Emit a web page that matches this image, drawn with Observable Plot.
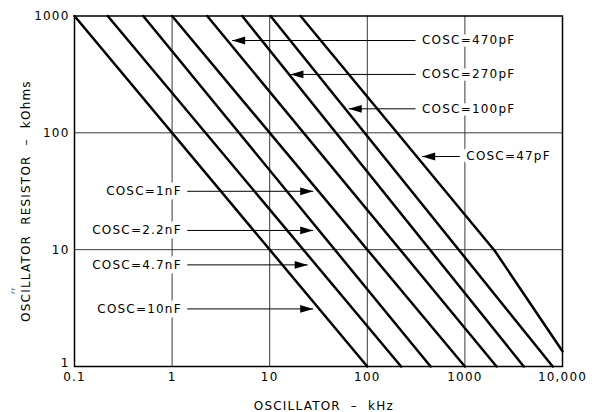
<!DOCTYPE html>
<html>
<head>
<meta charset="utf-8">
<script src="https://cdn.jsdelivr.net/npm/d3@7"></script>
<script src="https://cdn.jsdelivr.net/npm/@observablehq/plot@0.6"></script>
<style>
  html, body { margin: 0; padding: 0; background: white; }
  svg { display: block; }
</style>
</head>
<body>
<div id="chart"></div>
<script>
// ---- data ----
const seriesNames = ["10nF", "4.7nF", "2.2nF", "1nF", "470pF", "270pF", "100pF", "47pF"];
// frequency (kHz) of each curve's vertices
const curveF = [
  [0.1, 100],
  [0.219, 222],
  [0.506, 445],
  [1, 1000],
  [2.29, 2110],
  [5.23, 4010],
  [10.2, 7940],
  [20.7, 2020, 10000]
];
// resistance (kOhms) of each curve's vertices
const curveR = [
  [1000, 1],
  [1000, 1],
  [1000, 1],
  [1000, 1],
  [1000, 1],
  [1000, 1],
  [1000, 1],
  [1000, 9.8, 1.35]
];

// callout labels
const labelText = ["COSC=470pF", "COSC=270pF", "COSC=100pF", "COSC=47pF",
                   "COSC=1nF", "COSC=2.2nF", "COSC=4.7nF", "COSC=10nF"];
const labelSide = ["right", "right", "right", "right", "left", "left", "left", "left"];
const labelR = [617, 316, 160.5, 62.7, 31.6, 14.6, 7.41, 3.11];   // kOhms (row height)
const labelF = [312, 312, 312, 887, 1.43, 1.43, 1.43, 1.43];       // kHz where the leader meets the text
const tipF = [4.13, 16.3, 64.6, 365, 27.9, 27.9, 24.5, 27.9];      // kHz of arrow tip

// axes
const xTicks = [0.1, 1, 10, 100, 1000, 10000];
const xTickLabels = ["0.1", "1", "10", "100", "1000", "10,000"];
const yTicks = [1, 10, 100, 1000];
const yTickLabels = ["1", "10", "100", "1000"];
const xGrid = [1, 10, 100, 1000];
const yGrid = [10, 100];
const xTitle = "OSCILLATOR\u00a0\u00a0–\u00a0\u00a0kHz";
const yTitle = "OSCILLATOR\u00a0\u00a0RESISTOR\u00a0\u00a0–\u00a0\u00a0kOhms";
const yTitleMark = "rr";

// ---- build tables ----
const curves = seriesNames.flatMap((s, i) =>
  curveF[i].map((f, j) => ({series: s, f, R: curveR[i][j]})));
const labels = labelText.map((t, i) => ({
  text: t, side: labelSide[i], R: labelR[i], lineF: labelF[i], tipF: tipF[i]
}));
const rightLabels = labels.filter(d => d.side === "right");
const leftLabels = labels.filter(d => d.side === "left");
const yFmt = d => yTickLabels[yTicks.indexOf(d)];

// filled arrowheads, tip at origin
const headRight = {draw(ctx) { ctx.moveTo(0, 0); ctx.lineTo(-13, -3.9); ctx.lineTo(-13, 3.9); ctx.closePath(); }};
const headLeft  = {draw(ctx) { ctx.moveTo(0, 0); ctx.lineTo(13, -3.9); ctx.lineTo(13, 3.9); ctx.closePath(); }};

const font = {fontFamily: "DejaVu Sans", fontSize: 12};

const chart = Plot.plot({
  width: 598,
  height: 412,
  marginLeft: 74,
  marginRight: 36,
  marginTop: 15.5,
  marginBottom: 46,
  style: {fontFamily: "DejaVu Sans", fontSize: "12px", letterSpacing: "1.2px", background: "white", color: "black"},
  x: {type: "log", domain: [0.1, 10000], ticks: xTicks,
      tickFormat: d => xTickLabels[xTicks.indexOf(d)], tickSize: 0, tickPadding: 6, label: null},
  y: {type: "log", domain: [1, 1000], axis: null},
  marks: [
    Plot.gridX(xGrid, {stroke: "#3a3a3a", strokeOpacity: 1, strokeWidth: 1}),
    Plot.gridY(yGrid, {stroke: "#3a3a3a", strokeOpacity: 1, strokeWidth: 1}),
    Plot.axisY(yTicks.slice(1), {tickSize: 0, tickPadding: 5, tickFormat: yFmt, label: null}),
    Plot.axisY(yTicks.slice(0, 1), {tickSize: 0, tickPadding: 5, tickFormat: yFmt, label: null, dy: -3}),
    Plot.line(curves, {x: "f", y: "R", z: "series", stroke: "black", strokeWidth: 2.5}),
    Plot.link(labels, {x1: "tipF", x2: "lineF", y1: "R", y2: "R", stroke: "black", strokeWidth: 1}),
    Plot.dot(rightLabels, {x: "tipF", y: "R", symbol: headLeft, fill: "black", stroke: "none"}),
    Plot.dot(leftLabels, {x: "tipF", y: "R", symbol: headRight, fill: "black", stroke: "none"}),
    Plot.text(rightLabels, {x: "lineF", y: "R", text: "text", textAnchor: "start", dx: 6.5,
      fill: "black", stroke: "white", strokeWidth: 9, ...font}),
    Plot.text(leftLabels, {x: "lineF", y: "R", text: "text", textAnchor: "end", dx: -5.5,
      fill: "black", stroke: "white", strokeWidth: 9, ...font}),
    Plot.frame({stroke: "black", strokeWidth: 1.5}),
    Plot.text([xTitle], {text: d => d, frameAnchor: "bottom", textAnchor: "middle", dx: 5.4, dy: 39.5,
      lineAnchor: "middle", fill: "black", ...font}),
    Plot.text([yTitle], {text: d => d, frameAnchor: "left", textAnchor: "middle", rotate: -90, dx: -48, dy: 9.8,
      lineAnchor: "middle", fill: "black", ...font}),
    Plot.text([yTitleMark], {text: d => d, frameAnchor: "left", textAnchor: "middle", rotate: -90, dx: -61, dy: 99,
      lineAnchor: "middle", fill: "black", fontFamily: "DejaVu Sans", fontSize: 6})
  ]
});
document.getElementById("chart").append(chart);
</script>
</body>
</html>
